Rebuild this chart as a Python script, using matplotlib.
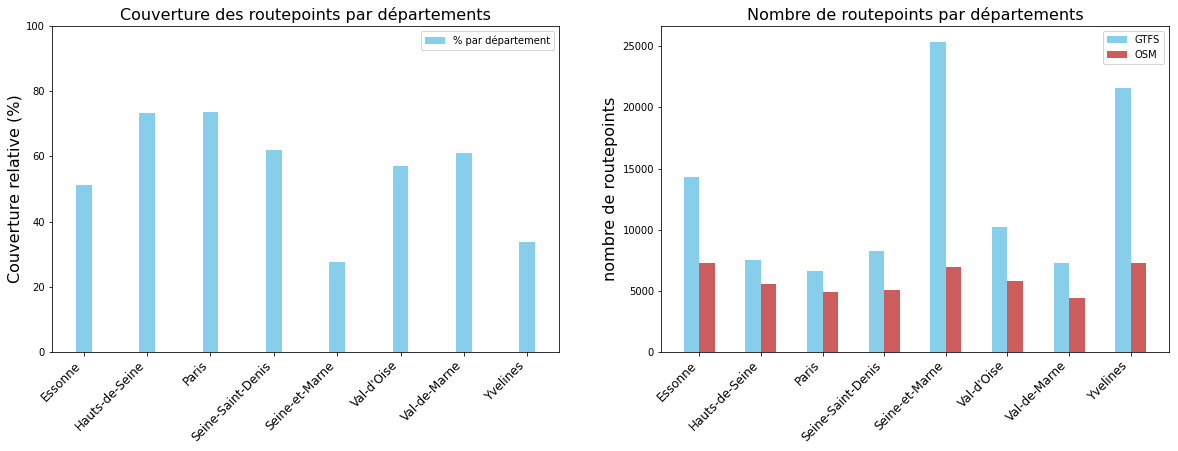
import numpy as np
import matplotlib
matplotlib.use("Agg")
import matplotlib.pyplot as plt

departements = ['Essonne', 'Hauts-de-Seine', 'Paris', 'Seine-Saint-Denis',
                'Seine-et-Marne', "Val-d'Oise", 'Val-de-Marne', 'Yvelines']

# couverture relative (%)
couverture = [51.2, 73.2, 73.6, 62.0, 27.6, 57.1, 61.0, 33.7]

# nombre de routepoints
gtfs = [14280, 7510, 6610, 8240, 25380, 10200, 7260, 21550]
osm = [7260, 5550, 4900, 5060, 6940, 5790, 4410, 7260]

fig = plt.figure(figsize=(1178 / 72, 451 / 72), dpi=72)
ax1 = fig.add_axes([52 / 1178, 1 - 352 / 451, 507 / 1178, 326 / 451])
ax2 = fig.add_axes([661 / 1178, 1 - 352 / 451, 508 / 1178, 326 / 451])

x = np.arange(len(departements))
w = 0.25

# graphe de gauche
ax1.bar(x, couverture, width=w, color='skyblue', label='% par département')
ax1.set_xlim(-0.5, len(departements) - 0.5)
ax1.set_ylim(0, 100)
ax1.set_xticks(x)
ax1.set_xticklabels(departements, rotation=45, ha='right', fontsize=12)
ax1.set_ylabel('Couverture relative (%)', fontsize=16)
ax1.set_title('Couverture des routepoints par départements', fontsize=16)
ax1.legend(loc='upper right')

# graphe de droite
ax2.bar(x - w / 2, gtfs, width=w, color='skyblue', label='GTFS')
ax2.bar(x + w / 2, osm, width=w, color='indianred', label='OSM')
ax2.set_xlim(-0.62, len(departements) - 1 + 0.62)
ax2.set_xticks(x)
ax2.set_xticklabels(departements, rotation=45, ha='right', fontsize=12)
ax2.set_ylabel('nombre de routepoints', fontsize=16)
ax2.set_title('Nombre de routepoints par départements', fontsize=16)
ax2.legend(loc='upper right')

fig.savefig('out.png', dpi=72)
